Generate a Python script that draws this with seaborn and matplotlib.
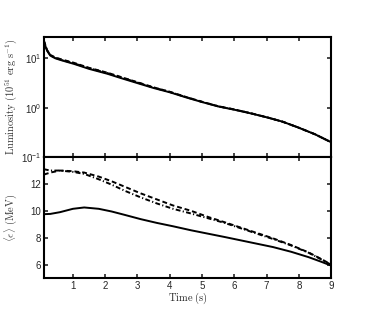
import numpy as np
import pandas as pd
import matplotlib
matplotlib.use('Agg')
import matplotlib.pyplot as plt
import seaborn as sns
from matplotlib.ticker import LogLocator, NullLocator

# Luminosity (10^51 erg/s) vs time (s)
lum_time = [0.1, 0.15, 0.2, 0.3, 0.45, 0.62, 0.8, 1.03, 1.5, 2.07, 2.5, 3.1, 3.5,
            4.0, 4.5, 5.0, 5.5, 6.0, 6.5, 7.04, 7.5, 7.97, 8.5, 9.0]
lum_solid = [22.0, 17.5, 14.2, 11.3, 10.0, 9.2, 8.5, 7.7, 6.1, 4.85, 3.95, 3.0, 2.5,
             2.05, 1.62, 1.3, 1.06, 0.91, 0.77, 0.63, 0.52, 0.40, 0.29, 0.20]
lum_dashed = [22.8, 17.9, 14.6, 11.7, 10.4, 9.6, 8.9, 8.1, 6.4, 5.1, 4.15, 3.12, 2.58,
              2.1, 1.65, 1.32, 1.07, 0.92, 0.775, 0.632, 0.52, 0.40, 0.29, 0.20]
lum_dashdot = [22.4, 17.7, 14.4, 11.5, 10.2, 9.4, 8.7, 7.9, 6.3, 5.0, 4.08, 3.08, 2.55,
               2.08, 1.64, 1.31, 1.07, 0.92, 0.775, 0.632, 0.52, 0.40, 0.29, 0.20]

# Mean energy (MeV) vs time (s)
en_time = [0.1, 0.3, 0.6, 1.0, 1.35, 1.8, 2.2, 2.6, 3.1, 3.6, 4.1, 4.66, 5.18,
           5.7, 6.2, 6.7, 7.2, 7.76, 8.3, 8.7, 9.0]
en_solid = [9.75, 9.77, 9.9, 10.15, 10.25, 10.15, 9.95, 9.7, 9.38, 9.1, 8.85, 8.55, 8.3,
            8.05, 7.8, 7.55, 7.3, 6.95, 6.55, 6.2, 5.92]
en_dashed = [12.7, 12.85, 13.0, 12.95, 12.85, 12.55, 12.2, 11.8, 11.3, 10.85, 10.4, 10.0, 9.55,
             9.15, 8.75, 8.35, 7.95, 7.45, 6.9, 6.4, 6.0]
en_dashdot = [13.1, 13.0, 13.0, 12.9, 12.75, 12.35, 11.95, 11.5, 11.0, 10.55, 10.15, 9.8, 9.45,
              9.1, 8.7, 8.3, 7.9, 7.42, 6.88, 6.38, 5.98]

time_ticks = [1, 2, 3, 4, 5, 6, 7, 8, 9]
en_ticks = [6, 8, 10, 12]

sns.set_style('ticks')
plt.rcParams['font.family'] = ['Liberation Sans', 'DejaVu Sans']
plt.rcParams['mathtext.fontset'] = 'custom'
plt.rcParams['mathtext.rm'] = 'Liberation Sans'
plt.rcParams['mathtext.it'] = 'Liberation Sans:italic'
plt.rcParams['axes.linewidth'] = 1.5
plt.rcParams['axes.edgecolor'] = 'black'

fig = plt.figure(figsize=(3.75, 3.13), dpi=100)
ax_top = fig.add_axes([0.117, 0.498, 0.766, 0.384])
ax_bot = fig.add_axes([0.117, 0.112, 0.766, 0.386])

lw = 1.4
dash = (0, (2.5, 1.5))
dashdot = (0, (2.5, 1.2, 0.6, 1.2))
sns.lineplot(x=lum_time, y=lum_solid, ax=ax_top, color='k', lw=lw)
sns.lineplot(x=lum_time, y=lum_dashed, ax=ax_top, color='k', lw=lw, linestyle=dash)
sns.lineplot(x=lum_time, y=lum_dashdot, ax=ax_top, color='k', lw=lw, linestyle=dashdot)

sns.lineplot(x=en_time, y=en_solid, ax=ax_bot, color='k', lw=lw)
sns.lineplot(x=en_time, y=en_dashed, ax=ax_bot, color='k', lw=lw, linestyle=dash)
sns.lineplot(x=en_time, y=en_dashdot, ax=ax_bot, color='k', lw=lw, linestyle=dashdot)

ax_top.set_yscale('log')
ax_top.set_ylim(0.1, 27)
ax_top.yaxis.set_major_locator(LogLocator(base=10, numticks=5))
ax_top.yaxis.set_minor_locator(NullLocator())
ax_bot.set_ylim(5, 14)
ax_bot.set_yticks(en_ticks)

for ax in (ax_top, ax_bot):
    ax.set_xlim(0.1, 9)
    ax.set_xticks(time_ticks)
    ax.tick_params(direction='in', top=True, right=True, length=3, width=1.2,
                   labelsize=7, pad=2)
    for sp in ax.spines.values():
        sp.set_linewidth(1.5)
ax_top.tick_params(labelbottom=False)

ax_top.set_ylabel(r'$\mathrm{Luminosity\ (10^{51}\ erg\ s^{-1})}$', fontsize=7.5,
                  math_fontfamily='cm', color='#333333')
ax_bot.set_ylabel(r'$\langle\epsilon\rangle\ \mathrm{(MeV)}$', fontsize=7.5,
                  math_fontfamily='cm', color='#333333')
ax_bot.set_xlabel(r'$\mathrm{Time\ (s)}$', fontsize=7.5, math_fontfamily='cm',
                  color='#222222', labelpad=0)
ax_top.yaxis.set_label_coords(-0.088, 0.5)
ax_bot.yaxis.set_label_coords(-0.088, 0.5)

fig.savefig('out.png', dpi=100)
